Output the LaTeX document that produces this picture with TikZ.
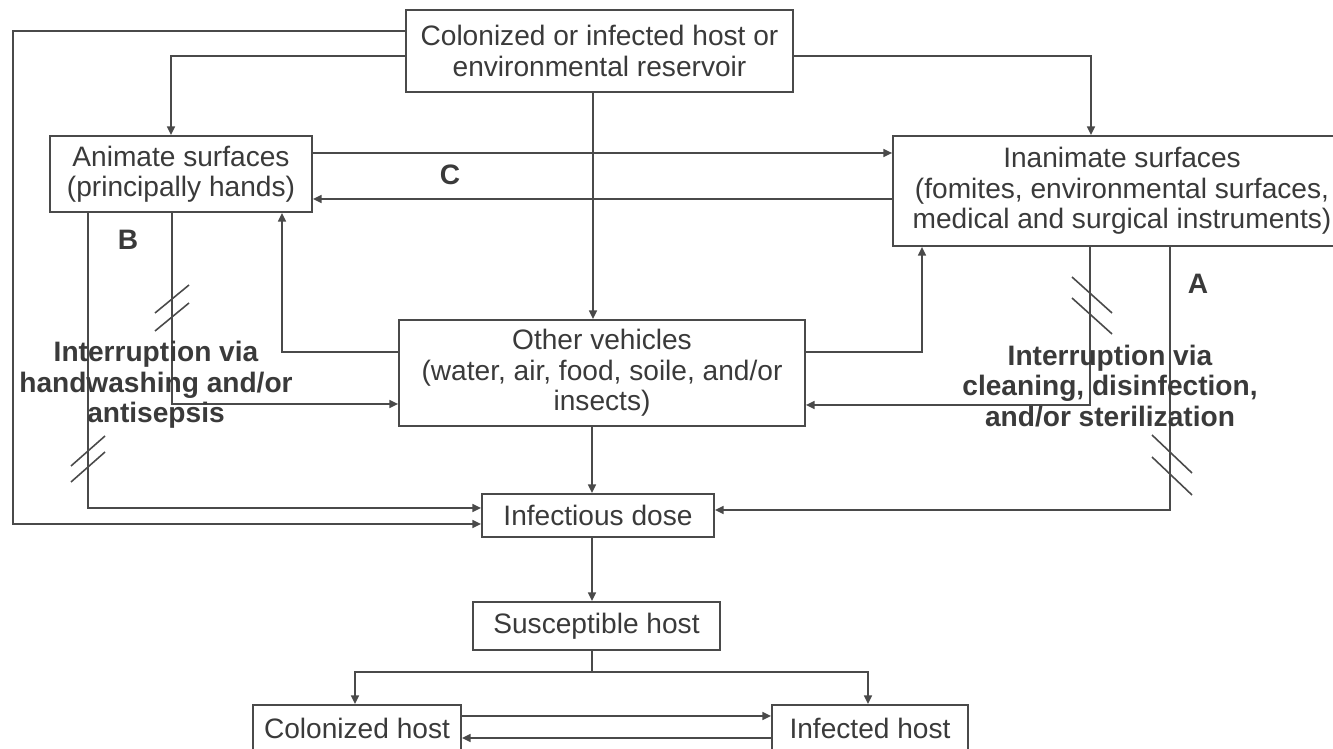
\documentclass[tikz,border=0pt]{standalone}
\usepackage{fontspec}
\setmainfont{Liberation Sans}
\usetikzlibrary{arrows.meta}
\definecolor{linha}{HTML}{4A4A4A}
\definecolor{texto}{HTML}{3A3A3A}

\begin{document}
\begin{tikzpicture}[x=0.02cm,y=-0.02cm, font=\fontsize{16}{17.3}\selectfont,
    box/.style={draw=linha, line width=1pt, text=texto, align=center, inner sep=2pt},
    lbl/.style={text=texto, font=\fontsize{16}{17.3}\selectfont\bfseries, align=center},
    ar/.style={-{Triangle[length=5pt,width=4.5pt]}, line width=1pt, linha},
    cut/.style={line width=0.9pt, linha}]
  \useasboundingbox (0,0) rectangle (1333,749);
  \node[box, minimum width=7.74cm, minimum height=1.64cm] (res) at (599.5,51) {Colonized or infected host or\\environmental reservoir};
  \node[box, minimum width=5.24cm, minimum height=1.52cm] (anim) at (181,174) {Animate surfaces\\(principally hands)};
  \node[box, minimum width=9.16cm, minimum height=2.2cm] (inan) at (1122,191) {Inanimate surfaces\\(fomites, environmental surfaces,\\medical and surgical instruments)};
  \node[box, minimum width=8.12cm, minimum height=2.12cm] (ov) at (602,373) {Other vehicles\\(water, air, food, soile, and/or\\insects)};
  \node[box, minimum width=4.64cm, minimum height=0.86cm] (dose) at (598,515.5) {Infectious dose};
  \node[box, minimum width=4.94cm, minimum height=0.96cm] (susc) at (596.5,626) {Susceptible host};
  \node[box, minimum width=4.16cm, minimum height=0.92cm] (colo) at (357,728) {Colonized host};
  \node[box, minimum width=3.92cm, minimum height=0.92cm] (infd) at (870,728) {Infected host};
  % reservoir outwards
  \draw[ar] (res.west |- 0,31) -- (13,31) -- (13,524) -- (dose.west |- 0,524);
  \draw[ar] (res.west |- 0,56) -| (171,0 |- anim.north);
  \draw[ar] (res.east |- 0,56) -| (1091,0 |- inan.north);
  \draw[ar] (593,0 |- res.south) -- (593,0 |- ov.north);
  % between surfaces
  \draw[ar] (anim.east |- 0,153) -- (inan.west |- 0,153);
  \draw[ar] (inan.west |- 0,199) -- (anim.east |- 0,199);
  \draw[ar] (ov.west |- 0,352) -| (282,0 |- anim.south);
  \draw[ar] (ov.east |- 0,352) -| (922,0 |- inan.south);
  % routes B and A
  \draw[ar] (172,0 |- anim.south) |- (ov.west |- 0,404);
  \draw[ar] (88,0 |- anim.south) |- (dose.west |- 0,508);
  \draw[ar] (1090,0 |- inan.south) |- (ov.east |- 0,405);
  \draw[ar] (1170,0 |- inan.south) |- (dose.east |- 0,510);
  % down to the hosts
  \draw[ar] (592,0 |- ov.south) -- (592,0 |- dose.north);
  \draw[ar] (592,0 |- dose.south) -- (592,0 |- susc.north);
  \draw[ar] (592,0 |- susc.south) -- (592,672) -| (355,0 |- colo.north);
  \draw[ar] (592,672) -| (868,0 |- infd.north);
  \draw[ar] (colo.east |- 0,716) -- (infd.west |- 0,716);
  \draw[ar] (infd.west |- 0,738) -- (colo.east |- 0,738);
  % interruptions
  \foreach \x/\y/\dx/\dy in {172/299/17/-14, 172/317/17/-14, 88/451/17/-15, 88/467/17/-15, 1092/295/20/18, 1092/316/20/18, 1172/454/20/19, 1172/476/20/19}
    \draw[cut] (\x-\dx,\y-\dy) -- (\x+\dx,\y+\dy);
  \node[lbl] (lblB) at (128,240) {B};
  \node[lbl] (lblC) at (450,175) {C};
  \node[lbl] (lblA) at (1198,284) {A};
  \node[lbl] (intB) at (156,385) {Interruption via\\handwashing and/or\\antisepsis};
  \node[lbl] (intA) at (1110,386) {Interruption via\\cleaning, disinfection,\\and/or sterilization};
\end{tikzpicture}
\end{document}
